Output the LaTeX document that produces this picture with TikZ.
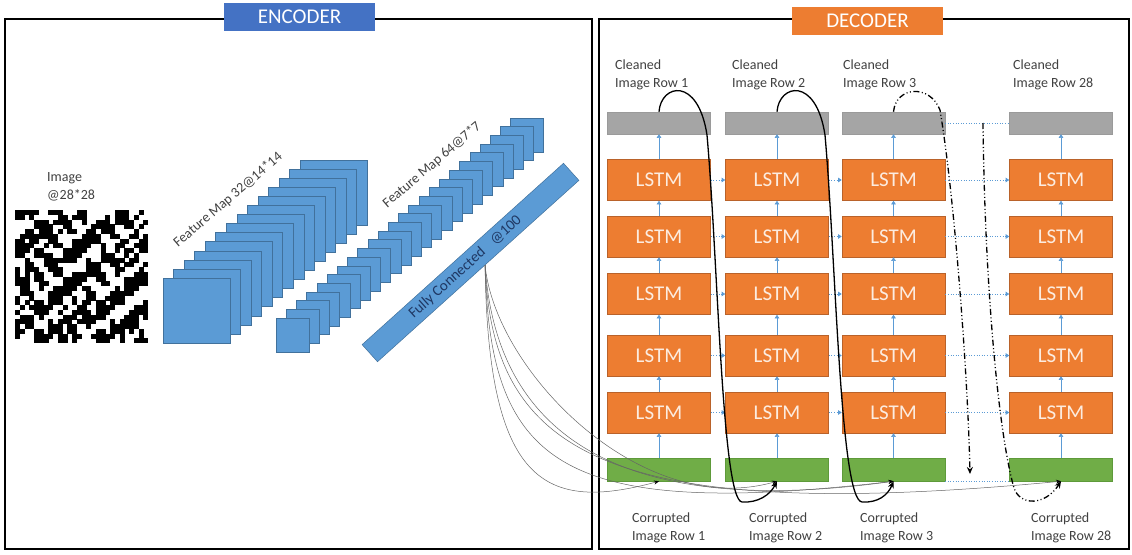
\documentclass[tikz,border=0pt]{standalone}
\usepackage{fontspec}
\setmainfont{Carlito}
\usetikzlibrary{arrows.meta, calc}
\definecolor{encBlue}{HTML}{4472C4}
\definecolor{mapBlue}{HTML}{5B9BD5}
\definecolor{mapEdge}{HTML}{41719C}
\definecolor{decOrange}{HTML}{ED7D31}
\definecolor{orangeEdge}{HTML}{B9622A}
\definecolor{cellGray}{HTML}{A5A5A5}
\definecolor{grayEdge}{HTML}{9A9A9A}
\definecolor{cellGreen}{HTML}{70AD47}
\definecolor{greenEdge}{HTML}{5E9A3A}
\definecolor{labelText}{HTML}{404040}
\definecolor{fcText}{HTML}{1F3864}

\tikzset{
  lstmbox/.style={draw=orangeEdge, fill=decOrange, line width=0.6pt, minimum width=103pt,
    minimum height=41pt, inner sep=0pt, text=white!85!decOrange, font=\fontsize{21}{24}\selectfont},
  outbox/.style={draw=grayEdge, fill=cellGray, line width=0.5pt, minimum width=103pt,
    minimum height=22pt, inner sep=0pt},
  inbox/.style={draw=greenEdge, fill=cellGreen, line width=0.5pt, minimum width=103pt,
    minimum height=23pt, inner sep=0pt},
  titlebox/.style={text=white, font=\fontsize{21}{24}\selectfont, inner sep=0pt,
    minimum height=28pt, minimum width=151pt},
  rowlabel/.style={anchor=north west, align=left, inner sep=0pt, text=labelText,
    font=\fontsize{14}{17.5}\selectfont},
  fmap/.style={draw=mapEdge, fill=mapBlue, line width=0.5pt},
  flow/.style={mapBlue, line width=0.5pt, -{Triangle[width=4.5pt,length=3.5pt]}},
  skip/.style={mapBlue, line width=0.6pt, dotted, -{Triangle[width=4.5pt,length=3.5pt]}},
  feed/.style={black, line width=1.3pt, -{Stealth[length=7pt,width=6pt]}},
  jump/.style={feed, dash pattern=on 6pt off 2.5pt on 1pt off 2.5pt on 1pt off 2.5pt},
  wire/.style={black!60, line width=0.5pt, -{Stealth[length=5pt,width=4pt,black]}}
}

\begin{document}
\begin{tikzpicture}[x=1pt, y=-1pt]
\useasboundingbox (0,0) rectangle (1132,554);

\draw[line width=1.6pt] (5,19) rectangle (592,549);
\draw[line width=1.6pt] (599,19) rectangle (1129,549);
\node[titlebox, fill=encBlue] (enc) at (299.5,17) {ENCODER};
\node[titlebox, fill=decOrange] (dec) at (867.5,21) {DECODER};

\pgfmathsetseed{28}
\foreach \i in {0,...,27}
  \foreach \j in {0,...,27}{
    \pgfmathtruncatemacro{\px}{(sin(\i*53+17)*cos(\j*61+5)+0.8*sin(\j*47+\i*31+80)
      +0.8*cos(\i*83-\j*57+30)+0.6*sin(\i*113+\j*127)+1.4*(rnd-0.5))>-0.15}
    \ifnum\px=1 \fill (15+\i*4.75, 210+\j*4.75) rectangle ++(5,5); \fi
  }
\node[rowlabel] (imglabel) at (47,172.5) {Image\\@28*28};

\foreach \k in {13,...,0}
  \draw[fmap] (163+\k*10.54, 278-\k*9.08) rectangle ++(67,65);
\foreach \k in {23,...,0}
  \draw[fmap] (276+\k*10.2, 318-\k*8.7) rectangle ++(33,34);
\node[rotate=40.5, inner sep=0pt, text=labelText, font=\fontsize{14}{17}\selectfont] (fm1label) at (228,200) {Feature Map 32@14*14};
\node[rotate=40.4, inner sep=0pt, text=labelText, font=\fontsize{14}{17}\selectfont] (fm2label) at (432,165) {Feature Map 64@7*7};
\node[fill=mapBlue, draw=mapEdge, line width=0.5pt, rotate=42, minimum width=271pt, minimum height=23pt,
  inner sep=0pt, text=fcText, font=\fontsize{15}{18}\selectfont] (fc) at (470.5,262.5) {\hspace{-14pt}Fully Connected\hspace{0.8em}@100};
\coordinate (fc-tap) at ([shift={(6.7,-6)}]fc.south);

\foreach \c/\x in {1/659, 2/777, 3/893.5, 4/1061}{
  \node[outbox] (out-\c) at (\x,123) {};
  \foreach \r/\y in {1/180, 2/236.5, 3/294, 4/355.5, 5/412.5}
    \node[lstmbox] (lstm-\c-\r) at (\x,\y) {LSTM};
  \node[inbox] (in-\c) at (\x,469.5) {};
}
\node[rowlabel] (clean-1) at (615,60) {Cleaned\\Image Row 1};
\node[rowlabel] (clean-2) at (732,60) {Cleaned\\Image Row 2};
\node[rowlabel] (clean-3) at (843,60) {Cleaned\\Image Row 3};
\node[rowlabel] (clean-28) at (1013,60) {Cleaned\\Image Row 28};
\node[rowlabel] (noisy-1) at (632,513) {Corrupted\\Image Row 1};
\node[rowlabel] (noisy-2) at (749,513) {Corrupted\\Image Row 2};
\node[rowlabel] (noisy-3) at (860,513) {Corrupted\\Image Row 3};
\node[rowlabel] (noisy-28) at (1031,513) {Corrupted\\Image Row 28};

\foreach \c in {1,...,4}{
  \draw[flow] (in-\c) -- (lstm-\c-5);
  \draw[flow] (lstm-\c-1) -- (out-\c);
  \foreach \r [count=\s] in {2,...,5}
    \draw[flow] (lstm-\c-\r) -- (lstm-\c-\s);
}
\foreach \r in {1,...,5}{
  \draw[skip] (lstm-1-\r) -- (lstm-2-\r);
  \draw[skip] (lstm-2-\r) -- (lstm-3-\r);
  \draw[skip] (lstm-3-\r) -- (lstm-4-\r);
}
\draw[skip, -] (out-3) -- (out-4);
\draw[skip, -] (in-3.south east) -- (in-4.south west);

\draw[wire] (fc-tap) .. controls (488,485) and (545,512) .. (in-1.south);
\draw[wire] (fc-tap) .. controls (495,370) and (640,520) .. (in-2.south);
\draw[wire] (fc-tap) .. controls (490,465) and (560,520) .. (in-3.south);
\draw[wire] (fc-tap) .. controls (492,450) and (600,525) .. (in-4.south);
\draw[wire] (fc-tap) .. controls (495,420) and (600,522) .. (in-3.south);

\draw[feed] (out-1.north) .. controls (661,84) and (698,76) .. (707,135)
  .. controls (718,260) and (722,500) .. (742,502)
  .. controls (758,503) and (770,495) .. (in-2.south);
\draw[feed] (out-2.north) .. controls (779,84) and (816,76) .. (825,135)
  .. controls (836,260) and (840,500) .. (862,502)
  .. controls (878,503) and (888,495) .. (in-3.south);

\coordinate (gap-top) at (983,123);
\coordinate (gap-bottom) at (970,474);
\draw[jump] (out-3.north) .. controls (896,86) and (930,84) .. (940,110)
  .. controls (955,200) and (968,380) .. (gap-bottom);
\draw[jump] (gap-top) .. controls (985,300) and (1000,440) .. (1014,488)
  .. controls (1020,506) and (1045,506) .. (in-4.south);
\end{tikzpicture}
\end{document}
